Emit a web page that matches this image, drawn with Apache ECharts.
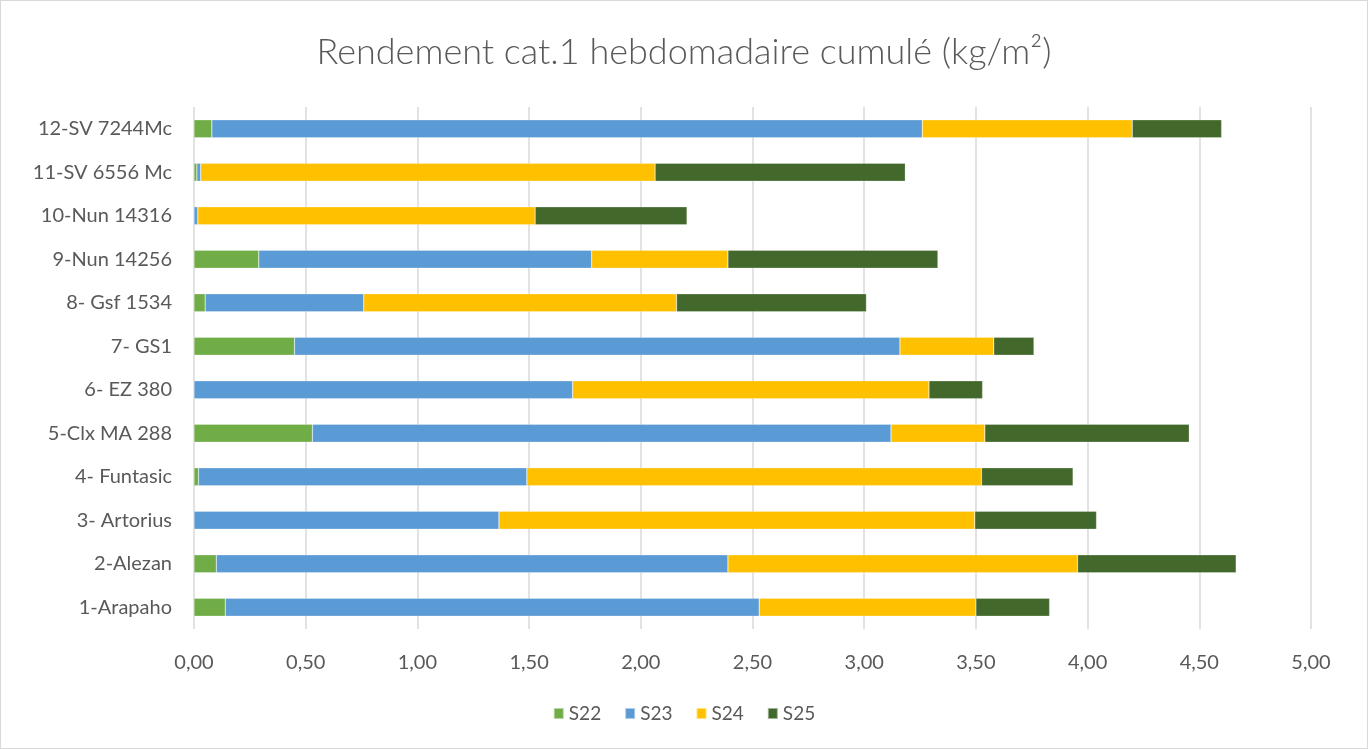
<!DOCTYPE html>
<html>
<head>
<meta charset="utf-8">
<script src="https://cdn.jsdelivr.net/npm/echarts@6/dist/echarts.min.js"></script>
<style>
  html, body { margin: 0; padding: 0; background: #fff; }
  #chart { width: 1366px; height: 747px; border: 1px solid #d9d9d9; }
</style>
</head>
<body>
<div id="chart"></div>
<script>
const categories = ['1-Arapaho', '2-Alezan', '3- Artorius', '4- Funtasic', '5-Clx MA 288', '6- EZ 380',
  '7- GS1', '8- Gsf 1534', '9-Nun 14256', '10-Nun 14316', '11-SV 6556 Mc', '12-SV 7244Mc']
const s22 = [0.14, 0.10, 0, 0.02, 0.53, 0, 0.45, 0.05, 0.29, 0, 0.013, 0.08]
const s23 = [2.39, 2.29, 1.365, 1.47, 2.59, 1.695, 2.71, 0.71, 1.49, 0.017, 0.017, 3.18]
const s24 = [0.97, 1.565, 2.13, 2.035, 0.42, 1.595, 0.42, 1.40, 0.61, 1.51, 2.034, 0.94]
const s25 = [0.33, 0.71, 0.545, 0.41, 0.915, 0.24, 0.18, 0.85, 0.94, 0.68, 1.12, 0.40]
const xTicks = { min: 0, max: 5, step: 0.5 }

const colors = ['#70AD47', '#5B9BD5', '#FFC000', '#43682B']
const font = 'Lato'

const myChart = echarts.init(document.getElementById('chart'))

const makeSeries = (name, data) => ({
  name: name,
  type: 'bar',
  stack: 'total',
  barWidth: 18,
  data: data,
  itemStyle: { borderColor: 'rgba(255,255,255,0.5)', borderWidth: 0.5 }
})

myChart.setOption({
  color: colors,
  textStyle: { fontFamily: font },
  title: {
    text: 'Rendement cat.1 hebdomadaire cumulé (kg/m²)',
    left: 'center',
    top: 28,
    textStyle: { fontFamily: font, fontSize: 36, fontWeight: 300, color: '#595959' }
  },
  legend: {
    bottom: 20,
    left: 'center',
    itemWidth: 10,
    itemHeight: 11,
    itemGap: 23,
    icon: 'rect',
    textStyle: { fontFamily: font, fontSize: 19, color: '#595959' }
  },
  grid: { left: 193, right: 56, top: 106, bottom: 119 },
  xAxis: {
    type: 'value',
    min: xTicks.min,
    max: xTicks.max,
    interval: xTicks.step,
    axisLine: { show: false },
    axisTick: { show: false },
    splitLine: { lineStyle: { color: '#d9d9d9', width: 1.5 } },
    axisLabel: {
      margin: 24,
      fontSize: 20,
      color: '#595959',
      formatter: v => v.toFixed(2).replace('.', ',')
    }
  },
  yAxis: {
    type: 'category',
    data: categories,
    axisLine: { show: false },
    axisTick: { show: false },
    axisLabel: { margin: 22, fontSize: 20, color: '#595959' }
  },
  series: [
    makeSeries('S22', s22),
    makeSeries('S23', s23),
    makeSeries('S24', s24),
    makeSeries('S25', s25)
  ]
})
</script>
</body>
</html>
